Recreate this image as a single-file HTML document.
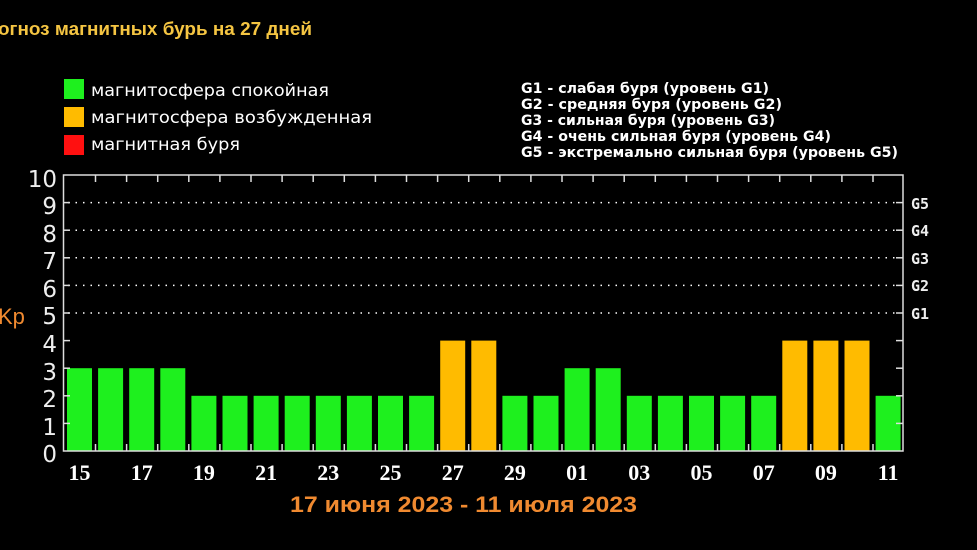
<!DOCTYPE html>
<html><head><meta charset="utf-8"><style>
html,body{margin:0;padding:0;background:#000;width:977px;height:550px;overflow:hidden}
svg{display:block}
</style></head><body>
<svg width="977" height="550" xmlns="http://www.w3.org/2000/svg" font-family="Liberation Sans, DejaVu Sans, sans-serif">
<rect width="977" height="550" fill="#000"/>
<text x="-2" y="35" fill="#f5c542" font-size="18.5" font-weight="bold" textLength="314" lengthAdjust="spacingAndGlyphs">огноз магнитных бурь на 27 дней</text>
<rect x="64" y="79" width="20" height="20" fill="#1ef01e"/>
<rect x="64" y="107" width="20" height="20" fill="#ffbb00"/>
<rect x="64" y="135" width="20" height="20" fill="#ff1010"/>
<g fill="#fff" font-size="17" font-family="DejaVu Sans, sans-serif">
<text x="91" y="96" textLength="238" lengthAdjust="spacingAndGlyphs">магнитосфера спокойная</text>
<text x="91" y="123" textLength="281" lengthAdjust="spacingAndGlyphs">магнитосфера возбужденная</text>
<text x="91" y="150" textLength="149" lengthAdjust="spacingAndGlyphs">магнитная буря</text>
</g>
<g fill="#fff" font-size="14" font-weight="bold" font-family="DejaVu Sans, sans-serif">
<text x="521" y="93" textLength="248" lengthAdjust="spacingAndGlyphs">G1 - слабая буря (уровень G1)</text>
<text x="521" y="109" textLength="261" lengthAdjust="spacingAndGlyphs">G2 - средняя буря (уровень G2)</text>
<text x="521" y="125" textLength="254" lengthAdjust="spacingAndGlyphs">G3 - сильная буря (уровень G3)</text>
<text x="521" y="141" textLength="310" lengthAdjust="spacingAndGlyphs">G4 - очень сильная буря (уровень G4)</text>
<text x="521" y="157" textLength="377" lengthAdjust="spacingAndGlyphs">G5 - экстремально сильная буря (уровень G5)</text>
</g>
<g stroke="#fff" stroke-width="1.5" stroke-dasharray="1.5 6">
<line x1="68" y1="202.6" x2="897" y2="202.6"/>
<line x1="68" y1="230.2" x2="897" y2="230.2"/>
<line x1="68" y1="257.8" x2="897" y2="257.8"/>
<line x1="68" y1="285.4" x2="897" y2="285.4"/>
<line x1="68" y1="313" x2="897" y2="313"/>
</g>
<g>
<rect x="67" y="368.2" width="25" height="82.8" fill="#1ef01e"/>
<rect x="98.1" y="368.2" width="25" height="82.8" fill="#1ef01e"/>
<rect x="129.2" y="368.2" width="25" height="82.8" fill="#1ef01e"/>
<rect x="160.3" y="368.2" width="25" height="82.8" fill="#1ef01e"/>
<rect x="191.4" y="395.8" width="25" height="55.2" fill="#1ef01e"/>
<rect x="222.5" y="395.8" width="25" height="55.2" fill="#1ef01e"/>
<rect x="253.6" y="395.8" width="25" height="55.2" fill="#1ef01e"/>
<rect x="284.7" y="395.8" width="25" height="55.2" fill="#1ef01e"/>
<rect x="315.8" y="395.8" width="25" height="55.2" fill="#1ef01e"/>
<rect x="346.9" y="395.8" width="25" height="55.2" fill="#1ef01e"/>
<rect x="378" y="395.8" width="25" height="55.2" fill="#1ef01e"/>
<rect x="409.1" y="395.8" width="25" height="55.2" fill="#1ef01e"/>
<rect x="440.2" y="340.6" width="25" height="110.4" fill="#ffbb00"/>
<rect x="471.3" y="340.6" width="25" height="110.4" fill="#ffbb00"/>
<rect x="502.4" y="395.8" width="25" height="55.2" fill="#1ef01e"/>
<rect x="533.5" y="395.8" width="25" height="55.2" fill="#1ef01e"/>
<rect x="564.6" y="368.2" width="25" height="82.8" fill="#1ef01e"/>
<rect x="595.7" y="368.2" width="25" height="82.8" fill="#1ef01e"/>
<rect x="626.8" y="395.8" width="25" height="55.2" fill="#1ef01e"/>
<rect x="657.9" y="395.8" width="25" height="55.2" fill="#1ef01e"/>
<rect x="689" y="395.8" width="25" height="55.2" fill="#1ef01e"/>
<rect x="720.1" y="395.8" width="25" height="55.2" fill="#1ef01e"/>
<rect x="751.2" y="395.8" width="25" height="55.2" fill="#1ef01e"/>
<rect x="782.3" y="340.6" width="25" height="110.4" fill="#ffbb00"/>
<rect x="813.4" y="340.6" width="25" height="110.4" fill="#ffbb00"/>
<rect x="844.5" y="340.6" width="25" height="110.4" fill="#ffbb00"/>
<rect x="875.6" y="395.8" width="25" height="55.2" fill="#1ef01e"/>
</g>
<rect x="63.5" y="175" width="839.5" height="276" fill="none" stroke="#ddd" stroke-width="1.5"/>
<g stroke="#ddd" stroke-width="1.5">
<line x1="63" y1="202.6" x2="70" y2="202.6"/><line x1="63" y1="230.2" x2="70" y2="230.2"/>
<line x1="63" y1="257.8" x2="70" y2="257.8"/><line x1="63" y1="285.4" x2="70" y2="285.4"/>
<line x1="63" y1="313" x2="70" y2="313"/><line x1="63" y1="340.6" x2="70" y2="340.6"/>
<line x1="63" y1="368.2" x2="70" y2="368.2"/><line x1="63" y1="395.8" x2="70" y2="395.8"/>
<line x1="63" y1="423.4" x2="70" y2="423.4"/>
<line x1="896" y1="202.6" x2="903" y2="202.6"/><line x1="896" y1="230.2" x2="903" y2="230.2"/>
<line x1="896" y1="257.8" x2="903" y2="257.8"/><line x1="896" y1="285.4" x2="903" y2="285.4"/>
<line x1="896" y1="313" x2="903" y2="313"/><line x1="896" y1="340.6" x2="903" y2="340.6"/>
<line x1="896" y1="368.2" x2="903" y2="368.2"/><line x1="896" y1="395.8" x2="903" y2="395.8"/>
<line x1="896" y1="423.4" x2="903" y2="423.4"/>
</g>
<g stroke="#ddd" stroke-width="1.5" id="tk">
<line x1="95.5" y1="175" x2="95.5" y2="182"/><line x1="126.6" y1="175" x2="126.6" y2="182"/><line x1="157.7" y1="175" x2="157.7" y2="182"/><line x1="188.8" y1="175" x2="188.8" y2="182"/><line x1="219.9" y1="175" x2="219.9" y2="182"/><line x1="251" y1="175" x2="251" y2="182"/><line x1="282.1" y1="175" x2="282.1" y2="182"/><line x1="313.2" y1="175" x2="313.2" y2="182"/><line x1="344.3" y1="175" x2="344.3" y2="182"/><line x1="375.4" y1="175" x2="375.4" y2="182"/><line x1="406.5" y1="175" x2="406.5" y2="182"/><line x1="437.6" y1="175" x2="437.6" y2="182"/><line x1="468.7" y1="175" x2="468.7" y2="182"/><line x1="499.8" y1="175" x2="499.8" y2="182"/><line x1="530.9" y1="175" x2="530.9" y2="182"/><line x1="562" y1="175" x2="562" y2="182"/><line x1="593.1" y1="175" x2="593.1" y2="182"/><line x1="624.2" y1="175" x2="624.2" y2="182"/><line x1="655.3" y1="175" x2="655.3" y2="182"/><line x1="686.4" y1="175" x2="686.4" y2="182"/><line x1="717.5" y1="175" x2="717.5" y2="182"/><line x1="748.6" y1="175" x2="748.6" y2="182"/><line x1="779.7" y1="175" x2="779.7" y2="182"/><line x1="810.8" y1="175" x2="810.8" y2="182"/><line x1="841.9" y1="175" x2="841.9" y2="182"/><line x1="873" y1="175" x2="873" y2="182"/>
</g>
<use href="#tk" transform="translate(0,269)"/>
<g fill="#eee" font-size="23" text-anchor="end" font-family="DejaVu Sans, sans-serif">
<text x="57" y="187">10</text><text x="57" y="214">9</text><text x="57" y="242">8</text>
<text x="57" y="269">7</text><text x="57" y="297">6</text><text x="57" y="324">5</text>
<text x="57" y="352">4</text><text x="57" y="380">3</text><text x="57" y="407">2</text>
<text x="57" y="435">1</text><text x="57" y="462">0</text>
</g>
<text x="-2" y="324" fill="#f08a30" font-size="22">Kp</text>
<g fill="#eee" font-size="15" font-weight="bold" font-family="DejaVu Sans Mono, monospace">
<text x="911" y="209">G5</text><text x="911" y="236">G4</text><text x="911" y="264">G3</text>
<text x="911" y="291">G2</text><text x="911" y="319">G1</text>
</g>
<g fill="#fff" font-size="22" font-weight="bold" text-anchor="middle" font-family="Liberation Serif, serif">
<text x="79.5" y="480">15</text><text x="141.7" y="480">17</text><text x="203.9" y="480">19</text>
<text x="266.1" y="480">21</text><text x="328.3" y="480">23</text><text x="390.5" y="480">25</text>
<text x="452.7" y="480">27</text><text x="514.9" y="480">29</text><text x="577.1" y="480">01</text>
<text x="639.3" y="480">03</text><text x="701.5" y="480">05</text><text x="763.7" y="480">07</text>
<text x="825.9" y="480">09</text><text x="888.1" y="480">11</text>
</g>
<text x="290" y="512" fill="#f08a30" font-size="22" font-weight="bold" textLength="347" lengthAdjust="spacingAndGlyphs">17 июня 2023 - 11 июля 2023</text>
</svg>
</body></html>
